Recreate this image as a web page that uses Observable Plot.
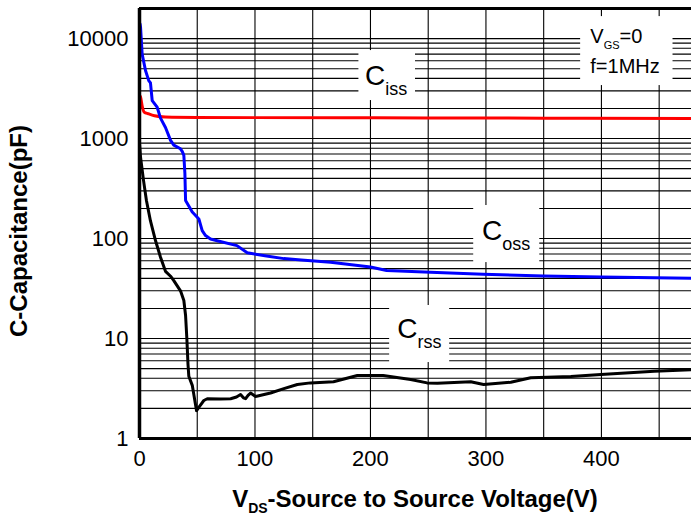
<!DOCTYPE html>
<html><head><meta charset="utf-8">
<script src="https://cdn.jsdelivr.net/npm/d3@7"></script>
<script src="https://cdn.jsdelivr.net/npm/@observablehq/plot@0.6"></script>
<style>html,body{margin:0;padding:0;background:#fff}</style>
</head><body><div id="chart"></div>
<script>
// ---- data ----
const cissV = [0, 0.9, 2.5, 4, 7.7, 13, 22.4, 50, 100, 178, 250, 350, 478];
const cissC = [2700, 2600, 2060, 1840, 1770, 1690, 1640, 1625, 1620, 1620, 1610, 1600, 1590];

const cossV = [0.5, 0.9, 2.3, 5.2, 8, 9.5, 11, 15.3, 18.2, 22.5, 26.9, 29.7, 35.5, 37.1, 38.4, 39.3, 39.9, 45.7, 51.4, 54.3, 57.2, 61.5, 67.3, 84.4, 93.3, 110, 125, 140, 165.5, 200, 214, 252, 297.6, 350, 400, 478];
const cossC = [14000, 13000, 7000, 4800, 3800, 3600, 2400, 2060, 1600, 1290, 960, 860, 790, 740, 680, 450, 240, 184, 157, 120, 107, 99, 95, 85, 72, 67, 63, 61, 58, 52, 48, 46, 44, 42.3, 41.3, 40];

const crssV = [0, 0.9, 3.5, 6, 9.5, 13.9, 18.2, 22.5, 26.9, 29.7, 35.5, 38.4, 39.9, 41, 42, 42.7, 45.7, 49.4, 52, 55.7, 58.7, 70, 78.9, 84, 87.5, 90, 91.9, 94, 96.2, 100.5, 113.5, 125, 136.7, 148, 168, 188.6, 211, 234.8, 249, 258, 286.8, 298, 321.5, 338.8, 373.5, 399.5, 445.7, 478];
const crssC = [900, 650, 380, 240, 150, 95, 65, 47, 42, 38, 30, 24, 17, 10, 5.5, 4.2, 3.4, 1.9, 2.1, 2.4, 2.5, 2.48, 2.5, 2.6, 2.75, 2.55, 2.5, 2.7, 2.85, 2.63, 2.85, 3.15, 3.47, 3.6, 3.7, 4.27, 4.27, 3.9, 3.6, 3.57, 3.7, 3.47, 3.65, 4.05, 4.17, 4.37, 4.7, 4.87];

const xTicks = [0, 100, 200, 300, 400];
const xTickLabels = ["0", "100", "200", "300", "400"];
const yTicks = [1, 10, 100, 1000, 10000];
const yTickLabels = ["1", "10", "100", "1000", "10000"];
const xGrid = [50, 100, 150, 200, 250, 300, 350, 400, 450];
const yGrid = [2,3,4,5,6,7,8,9,10,20,30,40,50,60,70,80,90,100,200,300,400,500,600,700,800,900,1000,2000,3000,4000,5000,6000,7000,8000,9000,10000];

// label boxes (data coordinates)
const boxV1 = [190, 289.4, 216.6, 382];
const boxV2 = [239, 346.6, 268.6, 462];
const boxC1 = [2400, 57.5, 5.75, 3390];
const boxC2 = [7590, 214, 21.4, 16600];

const seriesNames = ["C", "C", "C"];
const seriesSubs = ["iss", "oss", "rss"];
const seriesLabelV = [195.8, 297, 223.6];
const seriesLabelC = [3390, 95.5, 10];

const condLines = [["V", "GS", "=0"], ["f=1MHz"]];
const condV = [390.8, 390.8];
const condC = [8910, 4470];

const xTitle = ["V", "DS", "-Source to Source Voltage(V)"];
const yTitle = "C-Capacitance(pF)";

// ---- build ----
const mk = (V, C) => V.map((v, i) => ({v, c: C[i]}));
const ciss = mk(cissV, cissC), coss = mk(cossV, cossC), crss = mk(crssV, crssC);
const boxes = boxV1.map((v, i) => ({v1: v, v2: boxV2[i], c1: boxC1[i], c2: boxC2[i]}));
const font = "'Liberation Sans', Arial, Helvetica, sans-serif";

const plot = Plot.plot({
  width: 691, height: 515,
  marginLeft: 139, marginRight: 0, marginTop: 8, marginBottom: 77,
  style: {fontSize: "22px", fontFamily: font, color: "#000", background: "#fff"},
  x: {domain: [0, 478], axis: null},
  y: {type: "log", domain: [1, 20000], axis: null},
  marks: [
    Plot.ruleX(xGrid, {stroke: "#000", strokeWidth: 1.1}),
    Plot.ruleY(yGrid, {stroke: "#000", strokeWidth: 1.1}),
    Plot.rect(boxes, {x1: "v1", x2: "v2", y1: "c1", y2: "c2", fill: "#fff"}),
    Plot.line(ciss, {x: "v", y: "c", stroke: "#ff0000", strokeWidth: 3, curve: "monotone-x"}),
    Plot.line(coss, {x: "v", y: "c", stroke: "#0000ff", strokeWidth: 3, curve: "linear"}),
    Plot.line(crss, {x: "v", y: "c", stroke: "#000", strokeWidth: 3, curve: "linear"}),
    Plot.ruleX([0], {stroke: "#000", strokeWidth: 3.5}),
    Plot.ruleY([1, 20000], {stroke: "#000", strokeWidth: 3}),
    Plot.axisX(xTicks, {tickSize: 0, tickPadding: 12, tickFormat: d => xTickLabels[xTicks.indexOf(d)], label: null}),
    Plot.axisY(yTicks, {tickSize: 0, tickPadding: 11, tickFormat: d => yTickLabels[yTicks.indexOf(d)], label: null})
  ]
});
document.getElementById("chart").appendChild(plot);

const sx = plot.scale("x"), sy = plot.scale("y");
const svg = d3.select(plot);
const g = svg.append("g").attr("font-family", font).attr("fill", "#000").attr("text-anchor", "start");

seriesNames.forEach((n, i) => {
  const t = g.append("text").attr("x", sx.apply(seriesLabelV[i])).attr("y", sy.apply(seriesLabelC[i])).attr("font-size", 28);
  t.append("tspan").text(n);
  t.append("tspan").attr("font-size", 18).attr("dy", 10).text(seriesSubs[i]);
});

condLines.forEach((parts, i) => {
  const t = g.append("text").attr("x", sx.apply(condV[i])).attr("y", sy.apply(condC[i])).attr("font-size", 20);
  if (parts.length === 3) {
    t.append("tspan").text(parts[0]);
    t.append("tspan").attr("font-size", 11).attr("dy", 6).text(parts[1]);
    t.append("tspan").attr("dy", -6).text(parts[2]);
  } else {
    t.append("tspan").text(parts[0]);
  }
});

const xt = g.append("text").attr("x", 415).attr("y", 507).attr("text-anchor", "middle")
  .attr("font-size", 24).attr("font-weight", "bold");
xt.append("tspan").text(xTitle[0]);
xt.append("tspan").attr("font-size", 14).attr("dy", 6).text(xTitle[1]);
xt.append("tspan").attr("dy", -6).text(xTitle[2]);

g.append("text").attr("transform", "translate(27,231) rotate(-90)").attr("text-anchor", "middle")
  .attr("font-size", 24).attr("font-weight", "bold").text(yTitle);
</script>
</body></html>
